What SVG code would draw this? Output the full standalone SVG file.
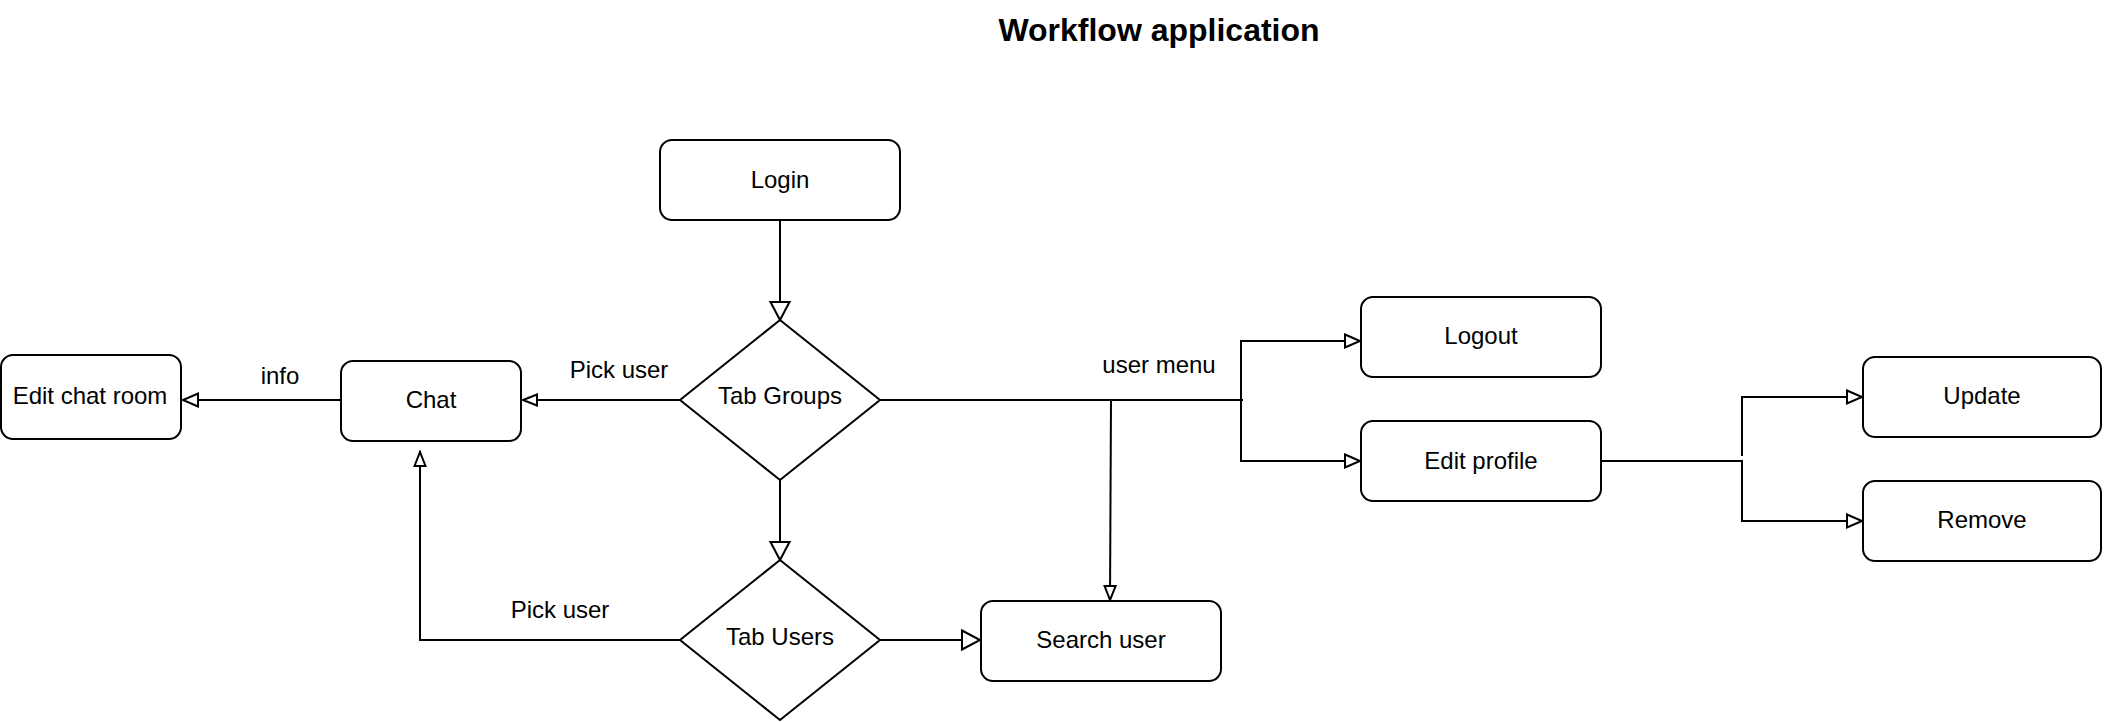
<svg xmlns="http://www.w3.org/2000/svg" width="2104" height="722" viewBox="0 0 2104 722">
<style>
.box{fill:#fff;stroke:#000;stroke-width:2}
.lbl{font-family:"Liberation Sans",Arial,sans-serif;font-size:24px;fill:#000;text-anchor:middle}
.title{font-family:"Liberation Sans",Arial,sans-serif;font-size:32px;font-weight:bold;fill:#000;text-anchor:middle}
.edge{fill:none;stroke:#000;stroke-width:2}
.head{fill:#fff;stroke:#000;stroke-width:2;stroke-linejoin:miter}
</style>
<defs>
<marker id="big" markerUnits="userSpaceOnUse" orient="auto" refX="0" refY="0" markerWidth="30" markerHeight="30" overflow="visible"><path class="head" d="M-19,-9.5 L-1,0 L-19,9.5 z"/></marker>
<marker id="mid" markerUnits="userSpaceOnUse" orient="auto" refX="0" refY="0" markerWidth="30" markerHeight="30" overflow="visible"><path class="head" d="M-16,-6.5 L-1,0 L-16,6.5 z"/></marker>
<marker id="small" markerUnits="userSpaceOnUse" orient="auto" refX="0" refY="0" markerWidth="30" markerHeight="30" overflow="visible"><path class="head" d="M-15,-5.5 L-1,0 L-15,5.5 z"/></marker>
</defs>
<rect width="2104" height="722" fill="#fff"/>
<text class="title" x="1159" y="41">Workflow application</text>
<g id="connectors">
<path class="edge" d="M780,220 V321" marker-end="url(#big)"/>
<path class="edge" d="M680,400 H522" marker-end="url(#small)"/>
<path class="edge" d="M340,400 H182" marker-end="url(#mid)"/>
<path class="edge" d="M780,480 V561" marker-end="url(#big)"/>
<path class="edge" d="M680,640 H420 V451" marker-end="url(#small)"/>
<path class="edge" d="M880,640 H981" marker-end="url(#big)"/>
<path class="edge" d="M880,400 H1243"/>
<path class="edge" d="M1241,400 V341 H1361" marker-end="url(#mid)"/>
<path class="edge" d="M1241,400 V461 H1361" marker-end="url(#mid)"/>
<path class="edge" d="M1111,400 L1110,601" marker-end="url(#small)"/>
<path class="edge" d="M1601,461 H1742 V521 H1863" marker-end="url(#mid)"/>
<path class="edge" d="M1742,456 V397 H1863" marker-end="url(#mid)"/>
<text class="lbl" x="619" y="378">Pick user</text>
<text class="lbl" x="280" y="384">info</text>
<text class="lbl" x="1159" y="373">user menu</text>
<text class="lbl" x="560" y="618">Pick user</text>
</g>
<g id="login"><rect class="box" x="660" y="140" width="240" height="80" rx="12"/><text class="lbl" x="780" y="188">Login</text></g>
<g id="tab-groups"><path class="box" d="M780,320 L880,400 L780,480 L680,400 z"/><text class="lbl" x="780" y="404">Tab Groups</text></g>
<g id="chat"><rect class="box" x="341" y="361" width="180" height="80" rx="12"/><text class="lbl" x="431" y="408">Chat</text></g>
<g id="edit-chat-room"><rect class="box" x="1" y="355" width="180" height="84" rx="12"/><text class="lbl" x="90" y="404">Edit chat room</text></g>
<g id="tab-users"><path class="box" d="M780,560 L880,640 L780,720 L680,640 z"/><text class="lbl" x="780" y="645">Tab Users</text></g>
<g id="search-user"><rect class="box" x="981" y="601" width="240" height="80" rx="12"/><text class="lbl" x="1101" y="648">Search user</text></g>
<g id="logout"><rect class="box" x="1361" y="297" width="240" height="80" rx="12"/><text class="lbl" x="1481" y="344">Logout</text></g>
<g id="edit-profile"><rect class="box" x="1361" y="421" width="240" height="80" rx="12"/><text class="lbl" x="1481" y="469">Edit profile</text></g>
<g id="update"><rect class="box" x="1863" y="357" width="238" height="80" rx="12"/><text class="lbl" x="1982" y="404">Update</text></g>
<g id="remove"><rect class="box" x="1863" y="481" width="238" height="80" rx="12"/><text class="lbl" x="1982" y="528">Remove</text></g>
</svg>
